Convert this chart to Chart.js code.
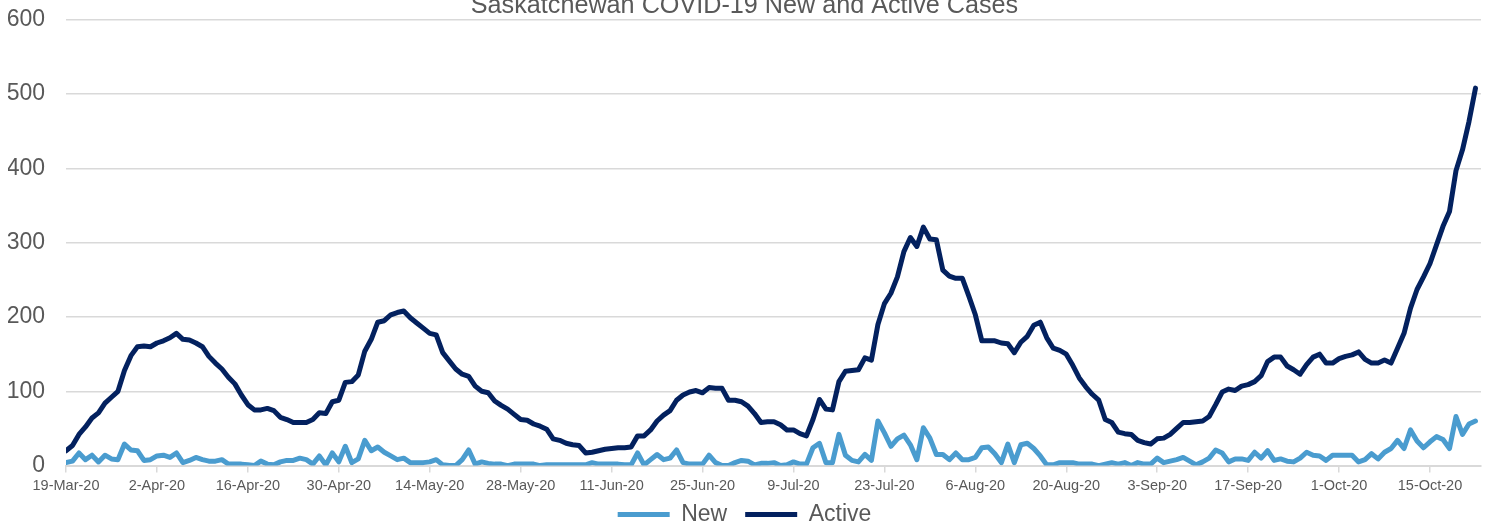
<!DOCTYPE html>
<html>
<head>
<meta charset="utf-8">
<script src="https://cdn.jsdelivr.net/npm/chart.js@4.4.1/dist/chart.umd.min.js"></script>
<style>
  html, body { margin: 0; padding: 0; background: #fff; overflow: hidden; }
  #wrap { width: 1491px; height: 527px; overflow: hidden; position: relative; }
  #c { position: absolute; left: 0; top: -15px; }
</style>
</head>
<body>
<div id="wrap"><canvas id="c" width="1491" height="566"></canvas></div>
<script>
// daily values, 19-Mar-20 .. 22-Oct-20
var startDate = new Date(2020, 2, 19);
var months = ['Jan', 'Feb', 'Mar', 'Apr', 'May', 'Jun', 'Jul', 'Aug', 'Sep', 'Oct', 'Nov', 'Dec'];

var newCases = [
  4, 6, 17, 8, 14, 5, 14, 9, 8, 29,
  21, 20, 7, 8, 13, 14, 11, 17, 4, 7,
  11, 8, 6, 6, 8, 2, 2, 2, 1, 0,
  6, 2, 1, 5, 7, 7, 10, 8, 2, 13,
  1, 17, 5, 26, 4, 9, 34, 20, 25, 18,
  13, 8, 10, 4, 4, 4, 5, 8, 1, 0,
  0, 8, 21, 2, 5, 3, 2, 2, 0, 2,
  2, 2, 2, 0, 1, 1, 1, 1, 1, 1,
  1, 4, 2, 2, 2, 2, 1, 1, 17, 1,
  8, 15, 8, 10, 21, 4, 2, 2, 2, 14,
  4, 0, 0, 4, 7, 6, 1, 3, 3, 4,
  0, 1, 5, 2, 2, 24, 30, 4, 4, 42,
  14, 7, 5, 15, 7, 60, 44, 26, 36, 41,
  28, 8, 51, 37, 15, 15, 8, 17, 8, 8,
  11, 24, 25, 16, 4, 29, 4, 28, 30, 23,
  13, 1, 1, 4, 4, 4, 2, 2, 2, 0,
  2, 4, 2, 4, 0, 4, 2, 2, 10, 4,
  6, 8, 11, 6, 1, 5, 10, 21, 17, 5,
  9, 9, 7, 18, 10, 20, 7, 9, 6, 5,
  10, 18, 14, 13, 7, 14, 14, 14, 14, 5,
  8, 16, 9, 18, 23, 34, 23, 48, 33, 24,
  32, 39, 35, 23, 66, 42, 56, 60
];

var activeCases = [
  20, 27, 42, 52, 64, 71, 84, 92, 100, 128,
  148, 160, 161, 160, 165, 168, 172, 178, 170, 169,
  165, 160, 147, 138, 130, 119, 110, 95, 82, 75,
  75, 77, 74, 65, 62, 58, 58, 58, 62, 71,
  70, 86, 88, 112, 113, 122, 154, 170, 193, 195,
  203, 206, 208, 199, 192, 185, 178, 176, 152, 141,
  130, 123, 120, 107, 100, 98, 87, 81, 76, 69,
  62, 61, 56, 53, 49, 36, 34, 30, 28, 27,
  17, 18, 20, 22, 23, 24, 24, 25, 40, 40,
  48, 60, 68, 74, 88, 95, 99, 101, 98, 105,
  104, 104, 88, 88, 86, 80, 70, 58, 59, 59,
  55, 48, 48, 43, 40, 62, 89, 76, 75, 113,
  127, 128, 129, 145, 142, 190, 218, 232, 254, 288,
  307, 295, 321, 305, 304, 263, 255, 252, 252, 228,
  203, 168, 168, 168, 165, 164, 152, 166, 174, 189,
  193, 172, 158, 155, 150, 135, 118, 106, 96, 88,
  62, 58, 45, 43, 42, 34, 31, 29, 36, 37,
  42, 50, 58, 58, 59, 60, 66, 82, 99, 103,
  101, 107, 109, 113, 121, 140, 146, 146, 134, 129,
  123, 136, 146, 150, 138, 138, 144, 147, 149, 153,
  143, 138, 138, 142, 138, 158, 178, 212, 237, 254,
  272, 297, 322, 342, 397, 425, 463, 508
];

var xTickLabels = ['19-Mar-20', '2-Apr-20', '16-Apr-20', '30-Apr-20', '14-May-20', '28-May-20',
  '11-Jun-20', '25-Jun-20', '9-Jul-20', '23-Jul-20', '6-Aug-20', '20-Aug-20',
  '3-Sep-20', '17-Sep-20', '1-Oct-20', '15-Oct-20'];
var yTicks = [0, 100, 200, 300, 400, 500, 600];

var dates = newCases.map(function (v, i) {
  var d = new Date(startDate.getTime() + i * 86400000);
  return d.getDate() + '-' + months[d.getMonth()] + '-20';
});

function points(arr) {
  return arr.map(function (v, i) { return { x: i, y: v }; });
}

var font = "'Liberation Sans', Arial, sans-serif";
var grey = '#595959';

// pull the legend up into the free space under the tick labels
var legendShift = {
  id: 'legendShift',
  afterLayout: function (c) {
    c.legend.top -= 15;
    c.legend.bottom -= 15;
  }
};

var ctx = document.getElementById('c').getContext('2d');
var chart = new Chart(ctx, {
  type: 'line',
  data: {
    labels: dates,
    datasets: [{
      label: 'New',
      data: points(newCases),
      borderColor: '#4a9ccf',
      backgroundColor: '#4a9ccf',
      borderWidth: 5,
      pointRadius: 0,
      tension: 0,
      borderJoinStyle: 'round',
      borderCapStyle: 'round'
    }, {
      label: 'Active',
      data: points(activeCases),
      borderColor: '#03215f',
      backgroundColor: '#03215f',
      borderWidth: 5,
      pointRadius: 0,
      tension: 0,
      borderJoinStyle: 'round',
      borderCapStyle: 'round'
    }]
  },
  plugins: [legendShift],
  options: {
    responsive: false,
    animation: false,
    devicePixelRatio: 1,
    layout: { padding: { left: 8, right: 10, top: 0, bottom: 0 } },
    plugins: {
      title: {
        display: true,
        text: 'Saskatchewan COVID-19 New and Active Cases',
        color: grey,
        font: { family: font, size: 25.2, weight: 'normal', lineHeight: 1.0 },
        padding: { top: -1.5, bottom: 1.5 }
      },
      legend: {
        position: 'bottom',
        labels: {
          color: grey,
          font: { family: font, size: 23 },
          boxWidth: 52,
          boxHeight: 5,
          padding: 18,
          generateLabels: function (c) {
            return Chart.defaults.plugins.legend.labels.generateLabels(c).map(function (l) {
              l.lineWidth = 0;
              return l;
            });
          }
        }
      },
      tooltip: { enabled: false }
    },
    scales: {
      x: {
        type: 'linear',
        min: 0,
        max: 217.85,
        afterBuildTicks: function (axis) {
          axis.ticks = xTickLabels.map(function (t, i) { return { value: i * 14 }; });
        },
        grid: { drawOnChartArea: false, drawTicks: true, tickLength: 7, color: '#d9d9d9', lineWidth: 1.5 },
        border: { display: true, color: '#d9d9d9', width: 2 },
        ticks: {
          autoSkip: false,
          maxRotation: 0,
          padding: 5,
          color: grey,
          font: { family: font, size: 14.5 },
          callback: function (v) {
            return xTickLabels[Math.round(v / 14)];
          }
        }
      },
      y: {
        min: 0,
        max: 600,
        afterBuildTicks: function (axis) {
          axis.ticks = yTicks.map(function (v) { return { value: v }; });
        },
        afterFit: function (axis) {
          axis.width = 58;
        },
        grid: { drawTicks: false, color: '#d9d9d9', lineWidth: 1.5 },
        border: { display: false },
        ticks: {
          padding: 21,
          color: grey,
          font: { family: font, size: 23 }
        }
      }
    }
  }
});
</script>
</body>
</html>
